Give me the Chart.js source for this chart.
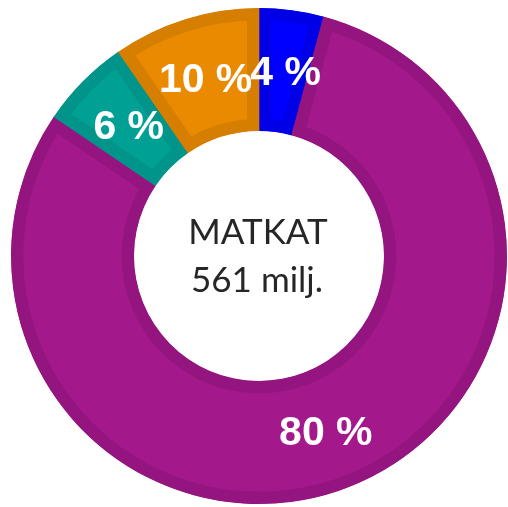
<!DOCTYPE html>
<html>
<head>
<meta charset="utf-8">
<script src="https://cdn.jsdelivr.net/npm/chart.js@4/dist/chart.umd.min.js"></script>
<style>
  html, body { margin: 0; padding: 0; background: #ffffff; }
  #wrap { width: 508px; height: 507px; }
</style>
</head>
<body>
<div id="wrap"><canvas id="c" width="508" height="507"></canvas></div>
<script>
// ---- data ----
const categories = ['Sininen', 'Violetti', 'Turkoosi', 'Oranssi'];
const values = [4.2, 80.3, 5.9, 9.6];
const centerLines = ['MATKAT', '561 milj.'];
const fillColors = ['#0000FF', '#A3198B', '#00A095', '#EA8A00'];
const edgeColors = ['#0000E6', '#94157F', '#00948A', '#D67E00'];

const labelPlugin = {
  id: 'sliceLabels',
  afterDatasetsDraw(chart) {
    const ctx = chart.ctx;
    const meta = chart.getDatasetMeta(0);
    const total = values.reduce((a, b) => a + b, 0);
    ctx.save();
    ctx.fillStyle = '#ffffff';
    ctx.font = 'bold 41px Arial, "Liberation Sans"';
    ctx.textAlign = 'center';
    ctx.textBaseline = 'middle';
    meta.data.forEach((arc, i) => {
      const p = arc.getProps(['x', 'y', 'startAngle', 'endAngle', 'innerRadius', 'outerRadius'], true);
      const mid = (p.startAngle + p.endAngle) / 2;
      const r = (p.innerRadius + p.outerRadius) / 2;
      const pct = Math.round(values[i] / total * 100);
      ctx.fillText(pct + ' %', p.x + 2 + Math.cos(mid) * r, p.y + Math.sin(mid) * r + 3);
    });
    // centre text
    const a0 = meta.data[0];
    ctx.fillStyle = '#262626';
    ctx.font = '35px Lato';
    ctx.textBaseline = 'alphabetic';
    ctx.fillText(centerLines[0], a0.x - 1, a0.y - 12);
    ctx.fillText(centerLines[1], a0.x - 2, a0.y + 36);
    ctx.restore();
  }
};

new Chart(document.getElementById('c'), {
  type: 'doughnut',
  data: {
    labels: categories,
    datasets: [{
      data: values,
      backgroundColor: fillColors,
      borderColor: edgeColors,
      hoverBackgroundColor: fillColors,
      hoverBorderColor: edgeColors,
      borderWidth: 12,
      hoverBorderWidth: 12,
      borderAlign: 'inner',
      borderJoinStyle: 'miter'
    }]
  },
  options: {
    responsive: false,
    animation: false,
    devicePixelRatio: 1,
    cutout: 125,
    radius: 248,
    layout: { padding: { left: 11, right: 1, top: 8, bottom: 3 } },
    plugins: {
      legend: { display: false },
      tooltip: { enabled: false }
    },
    events: []
  },
  plugins: [labelPlugin]
});
</script>
</body>
</html>
